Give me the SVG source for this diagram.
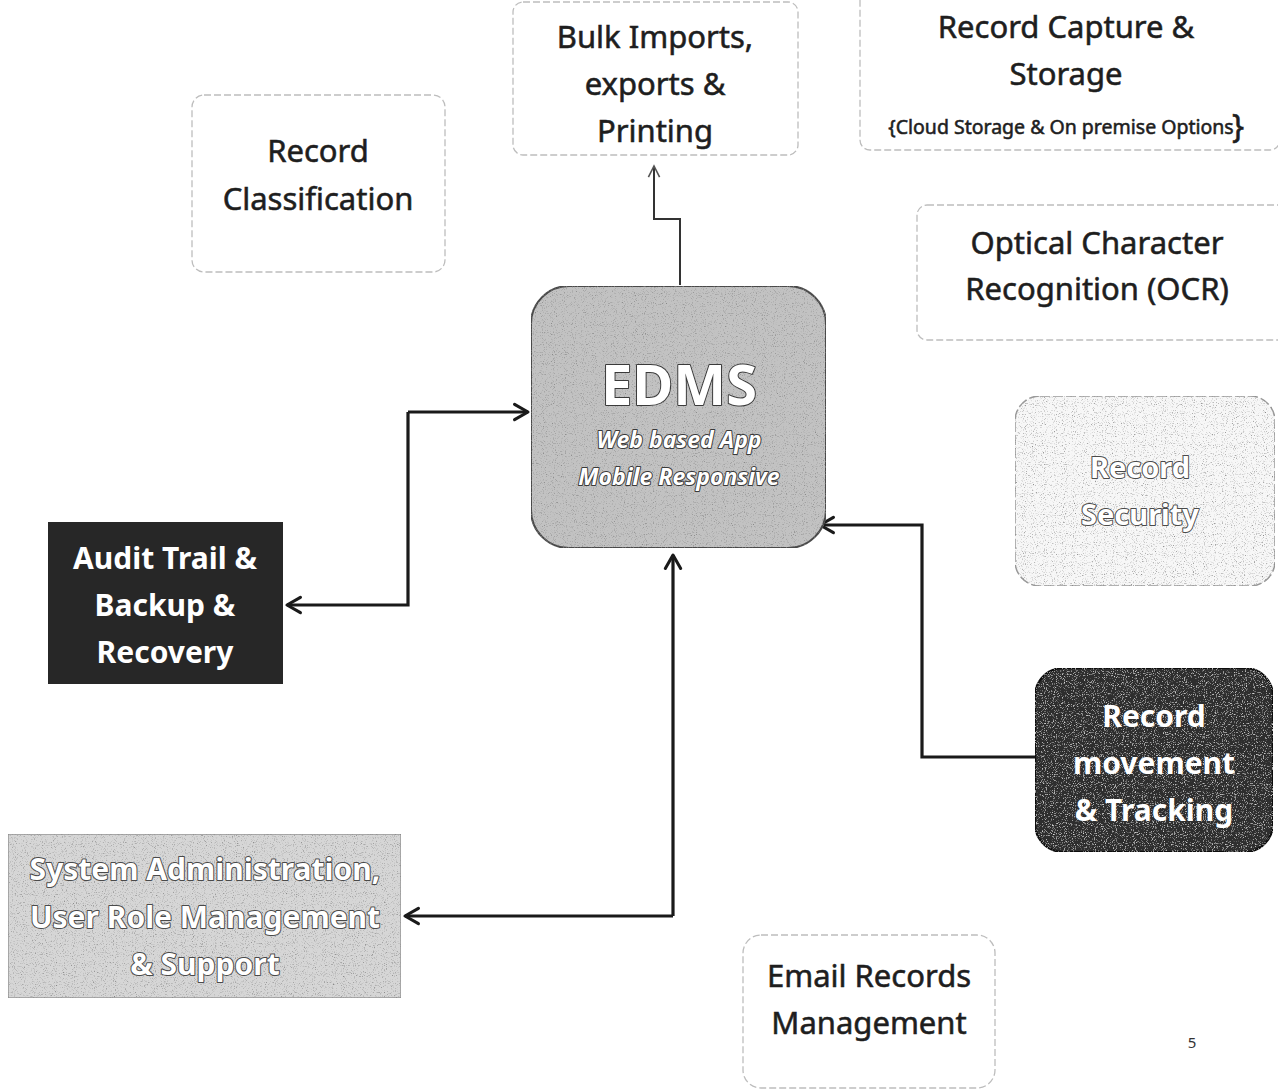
<svg xmlns="http://www.w3.org/2000/svg" width="1278" height="1091" viewBox="0 0 1278 1091">
<defs>
<style>
.t{font-family:"Noto Sans","Open Sans",sans-serif;text-anchor:middle;fill:#1e1e1e;stroke:#1e1e1e;stroke-width:0.55px}
.reg{font-size:31px}
.wb{font-family:"Noto Sans","Open Sans",sans-serif;text-anchor:middle;font-weight:bold;fill:#fff}
.ol{fill:#fff;stroke:#3a3a3a;stroke-width:2px;paint-order:stroke;stroke-linejoin:round}
.ol2{fill:#fff;stroke:#4a4a4a;stroke-width:2px;paint-order:stroke;stroke-linejoin:round}
.light{fill:#fff;stroke:#bdbdbd;stroke-width:1.3;stroke-dasharray:7 3}
.conn{fill:none;stroke:#1a1a1a;stroke-width:3.2}
.thin{fill:none;stroke:#333;stroke-width:2}
</style>
<filter id="grain" x="0" y="0" width="100%" height="100%">
<feTurbulence type="fractalNoise" baseFrequency="0.9" numOctaves="2" seed="3" result="n"/>
<feColorMatrix in="n" type="matrix" values="0 0 0 0 0.25  0 0 0 0 0.25  0 0 0 0 0.25  0 0 0 -3 1.35" result="spots"/>
<feComposite in="spots" in2="SourceGraphic" operator="in" result="s2"/>
<feMerge><feMergeNode in="SourceGraphic"/><feMergeNode in="s2"/></feMerge>
</filter>
<filter id="grainw" x="0" y="0" width="100%" height="100%">
<feTurbulence type="fractalNoise" baseFrequency="0.9" numOctaves="2" seed="7" result="n"/>
<feColorMatrix in="n" type="matrix" values="0 0 0 0 0.75  0 0 0 0 0.75  0 0 0 0 0.75  0 0 0 -3 1.3" result="spots"/>
<feComposite in="spots" in2="SourceGraphic" operator="in" result="s2"/>
<feMerge><feMergeNode in="SourceGraphic"/><feMergeNode in="s2"/></feMerge>
</filter>
<marker id="ah" viewBox="0 0 20 20" refX="17" refY="10" markerWidth="6" markerHeight="6" orient="auto" markerUnits="strokeWidth">
<path d="M3 2 L17 10 L3 18" fill="none" stroke="#1a1a1a" stroke-width="3.2" stroke-linecap="round" stroke-linejoin="round"/>
</marker>
<marker id="ahthin" viewBox="0 0 20 20" refX="17" refY="10" markerWidth="8" markerHeight="8" orient="auto" markerUnits="strokeWidth">
<path d="M3 3 L17 10 L3 17" fill="none" stroke="#555" stroke-width="2"/>
</marker>
</defs>
<rect width="1278" height="1091" fill="#ffffff"/>

<g id="connectors">
<path class="thin" d="M680 285 V219 H654 V166" marker-end="url(#ahthin)"/>
<path class="conn" d="M408 412 H528" marker-end="url(#ah)"/>
<path class="conn" d="M408 412 V605 H287" marker-end="url(#ah)"/>
<path class="conn" d="M1035 757 H922 V525 H820" marker-end="url(#ah)"/>
<path class="conn" d="M673 916 H405" marker-end="url(#ah)"/>
<path class="conn" d="M673 916 V555" marker-end="url(#ah)"/>
</g>

<g id="node-bulk">
<rect class="light" x="513" y="2" width="285" height="153" rx="10"/>
<text class="t reg" x="655" y="48">Bulk Imports,</text>
<text class="t reg" x="655" y="95">exports &amp;</text>
<text class="t reg" x="655" y="142">Printing</text>
</g>

<g id="node-capture">
<rect class="light" x="860" y="-10" width="420" height="160" rx="10"/>
<text class="t reg" x="1066" y="38">Record Capture &amp;</text>
<text class="t reg" x="1066" y="85">Storage</text>
<text class="t" x="1061" y="134" font-size="19.5" stroke-width="0.4">{Cloud Storage &amp; On premise Options</text>
<text class="t" x="1238" y="138" font-size="32">}</text>
</g>

<g id="node-classification">
<rect class="light" x="192" y="95" width="253" height="177" rx="12"/>
<text class="t reg" x="318" y="162">Record</text>
<text class="t reg" x="318" y="210">Classification</text>
</g>

<g id="node-ocr">
<rect class="light" x="917" y="205" width="380" height="135" rx="10"/>
<text class="t reg" x="1097" y="254">Optical Character</text>
<text class="t reg" x="1097" y="300">Recognition (OCR)</text>
</g>

<g id="node-edms">
<rect x="531" y="286" width="295" height="262" rx="38" fill="#c2c2c2" stroke="#4a4a4a" stroke-width="2" filter="url(#grain)"/>
<text class="wb ol" x="679" y="405" font-size="56">EDMS</text>
<text class="wb ol" x="679" y="448" font-size="23" font-style="italic">Web based App</text>
<text class="wb ol" x="679" y="485" font-size="23" font-style="italic">Mobile Responsive</text>
</g>

<g id="node-security">
<rect x="1015" y="396" width="260" height="190" rx="25" fill="#f7f7f7" stroke="#9a9a9a" stroke-width="1.5" stroke-dasharray="10 3" filter="url(#grain)"/>
<text class="wb ol2" x="1140" y="478" font-size="29">Record</text>
<text class="wb ol2" x="1140" y="525" font-size="29">Security</text>
</g>

<g id="node-audit">
<rect x="48" y="522" width="235" height="162" fill="#272727"/>
<text class="wb" x="165" y="569" font-size="30">Audit Trail &amp;</text>
<text class="wb" x="165" y="616" font-size="30">Backup &amp;</text>
<text class="wb" x="165" y="663" font-size="30">Recovery</text>
</g>

<g id="node-movement">
<rect x="1035" y="668" width="238" height="184" rx="28" fill="#2e2e2e" stroke="#111" stroke-width="2" filter="url(#grainw)"/>
<text class="wb" x="1154" y="727" font-size="30">Record</text>
<text class="wb" x="1154" y="774" font-size="30">movement</text>
<text class="wb" x="1154" y="821" font-size="30">&amp; Tracking</text>
</g>

<g id="node-sysadmin">
<rect x="8" y="834" width="393" height="164" fill="#d6d6d6" stroke="#888" stroke-width="1.2" filter="url(#grain)"/>
<text class="wb ol2" x="205" y="880" font-size="30">System Administration,</text>
<text class="wb ol2" x="205" y="928" font-size="30">User Role Management</text>
<text class="wb ol2" x="205" y="975" font-size="30">&amp; Support</text>
</g>

<g id="node-email">
<rect class="light" x="743" y="935" width="252" height="153" rx="18"/>
<text class="t reg" x="869" y="987">Email Records</text>
<text class="t reg" x="869" y="1034">Management</text>
</g>

<text x="1192" y="1048" font-family="Noto Sans, sans-serif" font-size="15" fill="#333" text-anchor="middle">5</text>
</svg>
